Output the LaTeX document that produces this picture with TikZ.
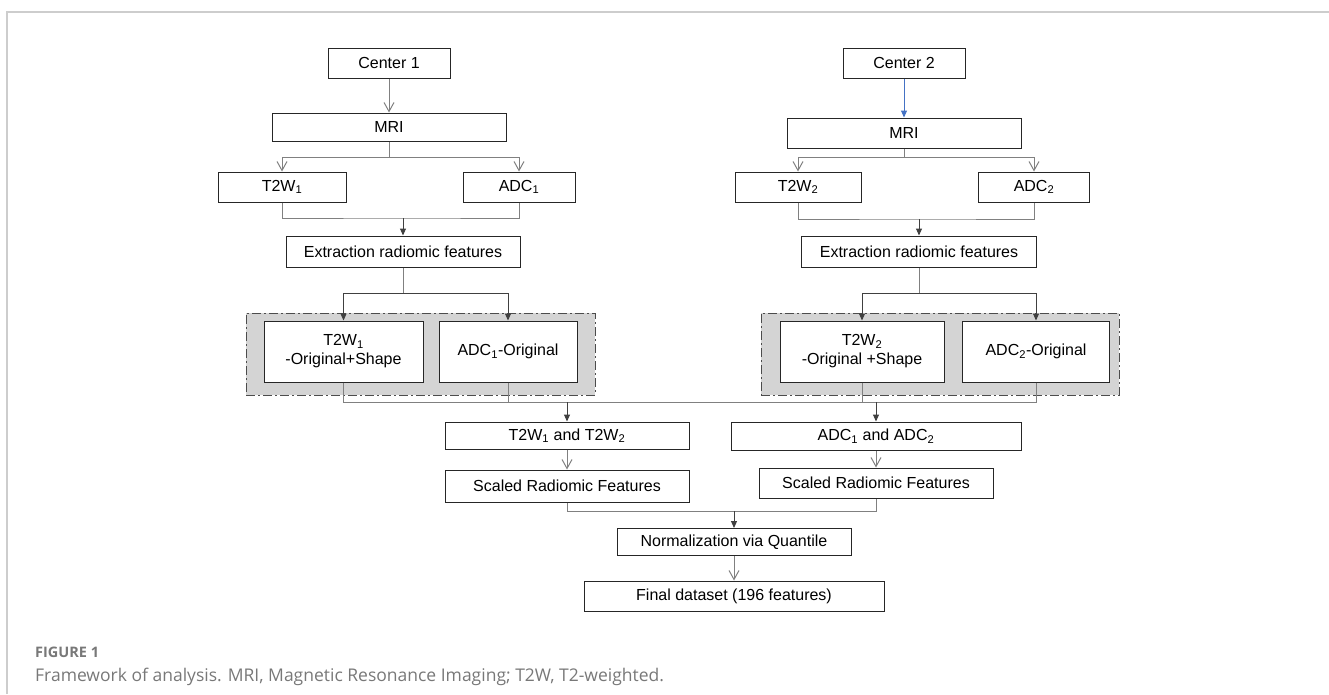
\documentclass[tikz,border=0pt]{standalone}
\usepackage{fontspec}
\setmainfont{Liberation Sans}
\newfontfamily\capfont{Open Sans}
\usetikzlibrary{arrows.meta, positioning}
\definecolor{linegray}{RGB}{128,128,128}
\definecolor{boxgray}{RGB}{212,212,212}
\definecolor{arrowblue}{RGB}{68,114,196}
\definecolor{framegray}{RGB}{205,205,205}
\definecolor{captiongray}{RGB}{120,120,120}

\begin{document}
\begin{tikzpicture}[
    x=1pt, y=-1pt,
    box/.style={rectangle, draw=black!85, fill=white, line width=1pt,
                inner sep=0pt, align=center, font=\fontsize{16}{19}\selectfont},
    grp/.style={rectangle, draw=black!70, fill=boxgray, line width=0.8pt,
                dash pattern=on 9pt off 3pt on 2pt off 3pt, inner sep=0pt},
    link/.style={draw=linegray, line width=1pt},
    openarrow/.style={link, -{Straight Barb[length=9pt,width=10pt]}},
    fillarrow/.style={draw=black!75, line width=1pt, -{Triangle[length=7pt,width=6pt]}},
    bluearrow/.style={draw=arrowblue, line width=1pt, -{Triangle[length=7pt,width=6pt]}},
    caption/.style={anchor=base west, inner sep=0pt, text=captiongray}
]
    \useasboundingbox (0,0) rectangle (1329,694);
    \draw[framegray, line width=1.5pt] (7,694) -- (7,12) -- (1329,12);

    % groups
    \node[grp, minimum width=349pt, minimum height=82pt] (grp1) at (420.5,354) {};
    \node[grp, minimum width=358pt, minimum height=82pt] (grp2) at (940,354) {};

    % center 1
    \node[box, minimum width=122pt, minimum height=30pt] (c1) at (389,63) {Center 1};
    \node[box, minimum width=234pt, minimum height=28pt] (mri1) at (389,127) {MRI};
    \node[box, minimum width=128pt, minimum height=30pt] (t2w1) at (282,187) {T2W\textsubscript{1}};
    \node[box, minimum width=112pt, minimum height=30pt] (adc1) at (519,187) {ADC\textsubscript{1}};
    \node[box, minimum width=234pt, minimum height=31pt] (ext1) at (403,251.5) {Extraction radiomic features};
    \node[box, minimum width=159pt, minimum height=61pt] (t2o1) at (343.5,351.5) {T2W\textsubscript{1}\\-Original+Shape};
    \node[box, minimum width=138pt, minimum height=61pt] (adco1) at (508,351.5) {ADC\textsubscript{1}-Original};

    % center 2
    \node[box, minimum width=122pt, minimum height=30pt] (c2) at (904,63) {Center 2};
    \node[box, minimum width=234pt, minimum height=30pt] (mri2) at (904,133) {MRI};
    \node[box, minimum width=126pt, minimum height=30pt] (t2w2) at (798,187) {T2W\textsubscript{2}};
    \node[box, minimum width=111pt, minimum height=30pt] (adc2) at (1034,187) {ADC\textsubscript{2}};
    \node[box, minimum width=235pt, minimum height=31pt] (ext2) at (919,251.5) {Extraction radiomic features};
    \node[box, minimum width=164pt, minimum height=61pt] (t2o2) at (862,351.5) {T2W\textsubscript{2}\\-Original +Shape};
    \node[box, minimum width=147pt, minimum height=61pt] (adco2) at (1036,351.5) {ADC\textsubscript{2}-Original};

    % merged
    \node[box, minimum width=244pt, minimum height=27pt] (tt) at (567,435.5) {T2W\textsubscript{1} and T2W\textsubscript{2}};
    \node[box, minimum width=290pt, minimum height=28pt] (aa) at (876,436) {ADC\textsubscript{1} and ADC\textsubscript{2}};
    \node[box, minimum width=244pt, minimum height=32pt] (ttsc) at (567,486) {Scaled Radiomic Features};
    \node[box, minimum width=234pt, minimum height=30pt] (aasc) at (876,483) {Scaled Radiomic Features};
    \node[box, minimum width=234pt, minimum height=27pt] (norm) at (734,542) {Normalization via Quantile};
    \node[box, minimum width=300pt, minimum height=30pt] (final) at (734,596) {Final dataset (196 features)};

    % junctions
    \coordinate (b1) at (389,157);
    \coordinate (j1) at (403,218);
    \coordinate (d1) at (403,293);
    \coordinate (b2) at (904,157);
    \coordinate (j2) at (919,219);
    \coordinate (d2) at (919,293);
    \coordinate (ja) at (567,402);
    \coordinate (jb) at (876,402);
    \coordinate (jc) at (734,511);

    \draw[openarrow] (c1) -- (mri1);
    \draw[link] (mri1) -- (b1);
    \draw[openarrow] (b1) -| (t2w1);
    \draw[openarrow] (b1) -| (adc1);
    \draw[link] (t2w1) |- (j1) -| (adc1);
    \draw[fillarrow] (j1) -- (ext1);
    \draw[link] (ext1) -- (d1);
    \draw[fillarrow] (d1) -| (t2o1);
    \draw[fillarrow] (d1) -| (adco1);

    \draw[bluearrow] (c2) -- (mri2);
    \draw[link] (mri2) -- (b2);
    \draw[openarrow] (b2) -| (t2w2);
    \draw[openarrow] (b2) -| (adc2);
    \draw[link] (t2w2) |- (j2) -| (adc2);
    \draw[fillarrow] (j2) -- (ext2);
    \draw[link] (ext2) -- (d2);
    \draw[fillarrow] (d2) -| (t2o2);
    \draw[fillarrow] (d2) -| (adco2);

    \draw[link] (t2o1) |- (ja);
    \draw[link] (adco1) -- (adco1 |- ja);
    \draw[link] (ja) -- (jb);
    \draw[link] (t2o2) -- (t2o2 |- jb);
    \draw[link] (adco2) |- (jb);
    \draw[fillarrow] (ja) -- (tt);
    \draw[fillarrow] (jb) -- (aa);
    \draw[openarrow] (tt) -- (ttsc);
    \draw[openarrow] (aa) -- (aasc);
    \draw[link] (ttsc) |- (jc) -| (aasc);
    \draw[fillarrow] (jc) -- (norm);
    \draw[openarrow] (norm) -- (final);

    % caption
    \node[caption, font=\capfont\fontsize{14.5}{17}\selectfont\bfseries] (figlabel) at (35,657) {FIGURE 1};
    \node[caption, font=\capfont\fontsize{17.5}{21}\selectfont] (figtext) at (35,681) {Framework of analysis. MRI, Magnetic Resonance Imaging; T2W, T2-weighted.};
\end{tikzpicture}
\end{document}
